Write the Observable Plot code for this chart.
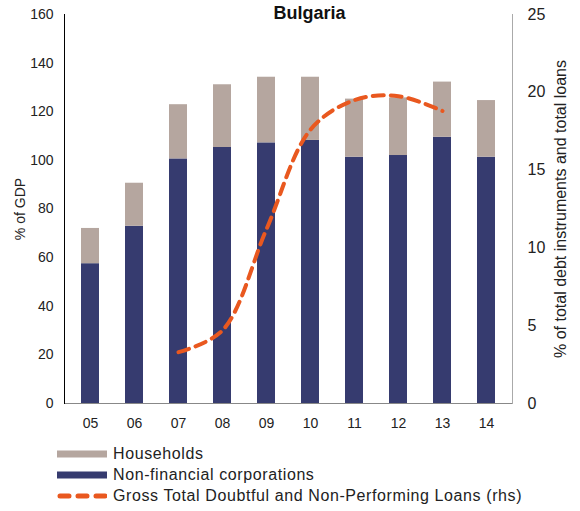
<!DOCTYPE html>
<html>
<head>
<meta charset="utf-8">
<script src="https://cdn.jsdelivr.net/npm/d3@7"></script>
<script src="https://cdn.jsdelivr.net/npm/@observablehq/plot@0.6"></script>
<style>
  html, body { margin: 0; padding: 0; background: #fff; }
  body { width: 580px; height: 511px; overflow: hidden; font-family: "Liberation Sans", Arial, sans-serif; color: #222; }
  #legend { position: relative; margin-left: 57px; margin-top: 8px; font-size: 16px; letter-spacing: 0.6px; }
  .row { height: 21px; display: flex; align-items: center; }
  .row svg { margin-right: 6px; flex: none; }
</style>
</head>
<body>
<div id="chart"></div>
<div id="legend"></div>
<script>
const years = ["05", "06", "07", "08", "09", "10", "11", "12", "13", "14"];
const nfc = [57.5, 72.9, 100.6, 105.3, 107.2, 108.2, 101.3, 102.0, 109.5, 101.3];
const households = [14.5, 17.7, 22.3, 25.8, 27.0, 26.0, 23.9, 23.7, 22.7, 23.3];
const nplYears = ["07", "08", "09", "10", "11", "12", "13"];
const npl = [3.3, 4.7, 11.2, 17.6, 19.5, 19.75, 18.8];
const leftTicks = [0, 20, 40, 60, 80, 100, 120, 140, 160];
const rightTicks = [0, 5, 10, 15, 20, 25];
const seriesNames = ["Households", "Non-financial corporations", "Gross Total Doubtful and Non-Performing Loans (rhs)"];
const colors = ["#B5A69F", "#363B6F", "#E9581F"];

const ratio = 160 / 25; // rhs -> lhs scale

const barRows = [
  ...years.map((year, i) => ({year, series: seriesNames[1], value: nfc[i]})),
  ...years.map((year, i) => ({year, series: seriesNames[0], value: households[i]}))
];
const nplRows = nplYears.map((year, i) => ({year, value: npl[i]}));

const chart = Plot.plot({
  width: 580,
  height: 435,
  marginLeft: 64,
  marginRight: 68,
  marginTop: 14,
  marginBottom: 32,
  style: {fontFamily: "'Liberation Sans', Arial, sans-serif", fontSize: "14px", color: "#222", background: "#fff"},
  x: {domain: years, padding: 0},
  y: {domain: [0, 160]},
  color: {domain: seriesNames.slice(0, 2), range: colors.slice(0, 2)},
  marks: [
    Plot.barY(barRows, {x: "year", y: "value", fill: "series", insetLeft: 13, insetRight: 13}),
    Plot.line(nplRows, {x: "year", y: d => d.value * ratio, stroke: colors[2], strokeWidth: 4, strokeDasharray: "11,7", curve: "catmull-rom"}),
    Plot.ruleY([0], {stroke: "#888"}),
    Plot.frame({anchor: "left", stroke: "#000"}),
    Plot.frame({anchor: "right", stroke: "#aaa"}),
    Plot.axisX({tickSize: 0, tickPadding: 15, label: null, fill: "#222"}),
    Plot.axisY(leftTicks, {anchor: "left", tickSize: 0, tickPadding: 11, fill: "#222", label: "% of GDP", labelArrow: "none", labelAnchor: "center", labelOffset: 49}),
    Plot.axisY(rightTicks.map(v => v * ratio), {anchor: "right", tickSize: 0, tickPadding: 15, fill: "#222", tickFormat: d => Math.round(d / ratio), label: "% of total debt instruments and total loans", labelArrow: "none", labelAnchor: "center", labelOffset: 53, fontSize: 16}),
    Plot.text(["Bulgaria"], {frameAnchor: "top", dx: 21, dy: -1, text: d => d, fontWeight: "bold", fontSize: 18, lineAnchor: "middle", fill: "#111"})
  ]
});
document.getElementById("chart").appendChild(chart);

const legend = document.getElementById("legend");
seriesNames.forEach((name, i) => {
  const row = document.createElement("div");
  row.className = "row";
  const sw = i < 2
    ? `<svg width="50" height="8"><rect x="0" y="0.5" width="50" height="7" fill="${colors[i]}"/></svg>`
    : `<svg width="50" height="8"><line x1="3" y1="4" x2="48" y2="4" stroke="${colors[i]}" stroke-width="5" stroke-linecap="round" stroke-dasharray="9,9"/></svg>`;
  row.innerHTML = sw + `<span>${name}</span>`;
  legend.appendChild(row);
});
</script>
</body>
</html>
